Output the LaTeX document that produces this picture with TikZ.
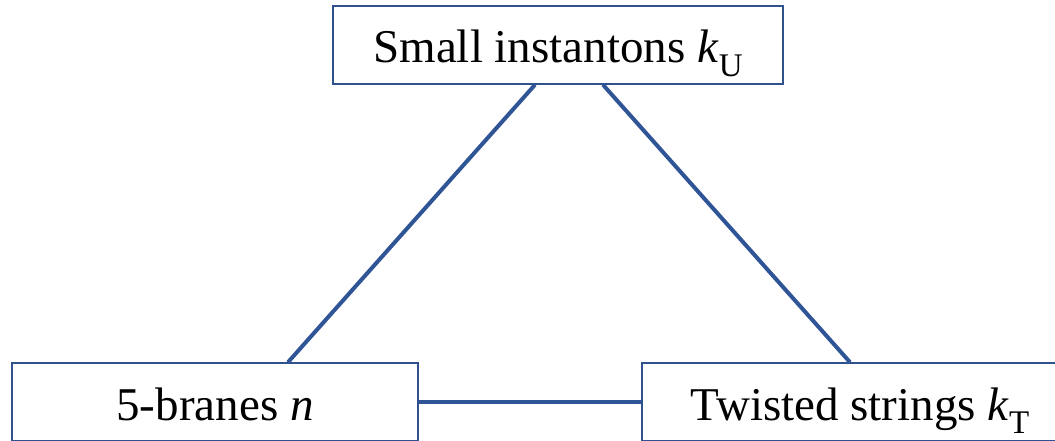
\documentclass[tikz,border=0pt]{standalone}
\usepackage{fontspec}
\setmainfont{Liberation Serif}
\definecolor{edgeblue}{RGB}{47,85,151}
\definecolor{boxblue}{RGB}{47,82,143}
\newcommand{\subtext}[1]{\raisebox{-0.28em}{\fontsize{33}{33}\selectfont #1}}
\begin{document}
\begin{tikzpicture}[x=1pt,y=-1pt,
  label box/.style={draw=boxblue,line width=1.5pt,fill=white,rectangle,
    minimum height=78pt,inner sep=0pt,text height=36pt,text depth=0pt,
    font=\fontsize{47}{56}\selectfont},
  link/.style={draw=edgeblue,line width=4pt}]
  \useasboundingbox (0,0) rectangle (1055,441);
  \begin{scope}
    \clip (0,0) rectangle (1055,441);
    \node[label box,minimum width=450pt] (top) at (558,45) {Small instantons \textit{k}\subtext{U}};
    \node[label box,minimum width=406pt] (bl) at (215,402) {5-branes \textit{n}};
    \node[label box,minimum width=436pt] (br) at (860,402) {Twisted strings \textit{k}\subtext{T}};
    \draw[link] ([xshift=-23pt]top.south) -- ([xshift=73pt]bl.north);
    \draw[link] ([xshift=45pt]top.south) -- ([xshift=-10pt]br.north);
    \draw[link] (bl.east) -- (br.west);
  \end{scope}
\end{tikzpicture}
\end{document}
